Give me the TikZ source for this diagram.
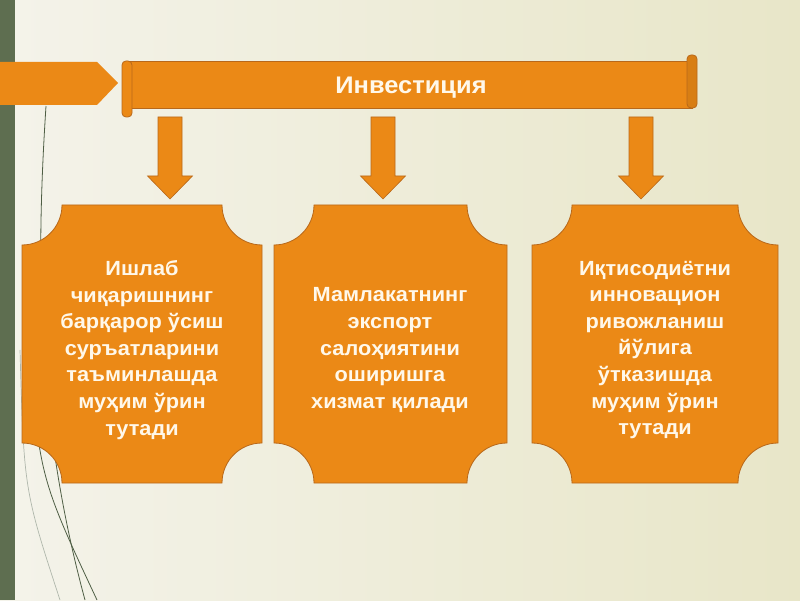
\documentclass[tikz,border=0pt]{standalone}
\usepackage{fontspec}
\setmainfont{Liberation Sans}
\newfontfamily\widefont[FakeStretch=1.06]{Liberation Sans}
\definecolor{bgL}{HTML}{F4F3EA}
\definecolor{bgR}{HTML}{E8E6C8}
\definecolor{sidebar}{HTML}{5E6E50}
\definecolor{org}{HTML}{EB8916}
\definecolor{orgdark}{HTML}{B8681A}
\definecolor{txt}{HTML}{FFF8EA}
\definecolor{deco}{HTML}{4E5E44}
\tikzset{
  plaquefill/.style={fill=org, draw=orgdark, line width=0.8pt},
  boxtext/.style={text=txt, font=\widefont\fontsize{20.5}{26.6}\selectfont\bfseries, align=center},
  bannertext/.style={text=txt, font=\widefont\fontsize{24}{26}\selectfont\bfseries},
  blockarrow/.style={fill=org, draw=orgdark, line width=0.6pt},
  decoline/.style={draw=deco, line width=0.8pt}
}
\newcommand{\plaquepath}[5]{% x1 Y1(bottom) x2 Y2(top) r
  \path[plaquefill] (#1+#5,#4) -- (#3-#5,#4)
    arc[start angle=180, end angle=270, radius=#5 pt]
    -- (#3,#2+#5) arc[start angle=90, end angle=180, radius=#5 pt]
    -- (#1+#5,#2) arc[start angle=0, end angle=90, radius=#5 pt]
    -- (#1,#4-#5) arc[start angle=270, end angle=360, radius=#5 pt] -- cycle;}
\newcommand{\downarrowat}[1]{% center x
  \path[blockarrow] (#1-12,483) -- (#1+12,483) -- (#1+12,424) -- (#1+22.5,424)
    -- (#1,401) -- (#1-22.5,424) -- (#1-12,424) -- cycle;}
\begin{document}
\begin{tikzpicture}[x=1pt,y=1pt]
\useasboundingbox (0,0) rectangle (800,600);
% background
\shade[left color=bgL, right color=bgR] (0,0) rectangle (800,600);
\fill[sidebar] (0,0) rectangle (15,600);
% decorative lines
\draw[decoline] (46,494) .. controls (36,340) and (36,180) .. (85,0);
\draw[decoline] (30,300) .. controls (36,130) .. (97,0);
\draw[draw=deco!45, line width=0.7pt] (20,250) .. controls (24,110) .. (60,0);
% left pentagon arrow
\fill[org] (0,538) -- (97,538) -- (118,517) -- (97,495) -- (0,495) -- cycle;
% banner (scroll)
\path[fill=org, draw=orgdark, line width=0.8pt] (128,492) rectangle (692,539);
\path[fill=org, draw=orgdark, line width=0.8pt, rounded corners=4pt]
  (122,539) -- (122,483) -- (132,483) -- (132,539) -- cycle;
\path[fill=org!92!black, draw=orgdark, line width=0.8pt, rounded corners=4pt]
  (687,492) -- (687,545) -- (697,545) -- (697,492) -- cycle;
\node[bannertext] (banner) at (411,512) {Инвестиция};
% arrows
\downarrowat{170}
\downarrowat{383}
\downarrowat{641}
% boxes
\plaquepath{22}{117}{262}{395}{40}
\plaquepath{274}{117}{507}{395}{40}
\plaquepath{532}{117}{778}{395}{40}
\node[boxtext] (b1) at (142,250) {Ишлаб\\чиқаришнинг\\барқарор ўсиш\\суръатларини\\таъминлашда\\муҳим ўрин\\тутади};
\node[boxtext] (b2) at (390,250) {Мамлакатнинг\\экспорт\\салоҳиятини\\оширишга\\хизмат қилади};
\node[boxtext] (b3) at (655,250) {Иқтисодиётни\\инновацион\\ривожланиш\\йўлига\\ўтказишда\\муҳим ўрин\\тутади};
\end{tikzpicture}
\end{document}
